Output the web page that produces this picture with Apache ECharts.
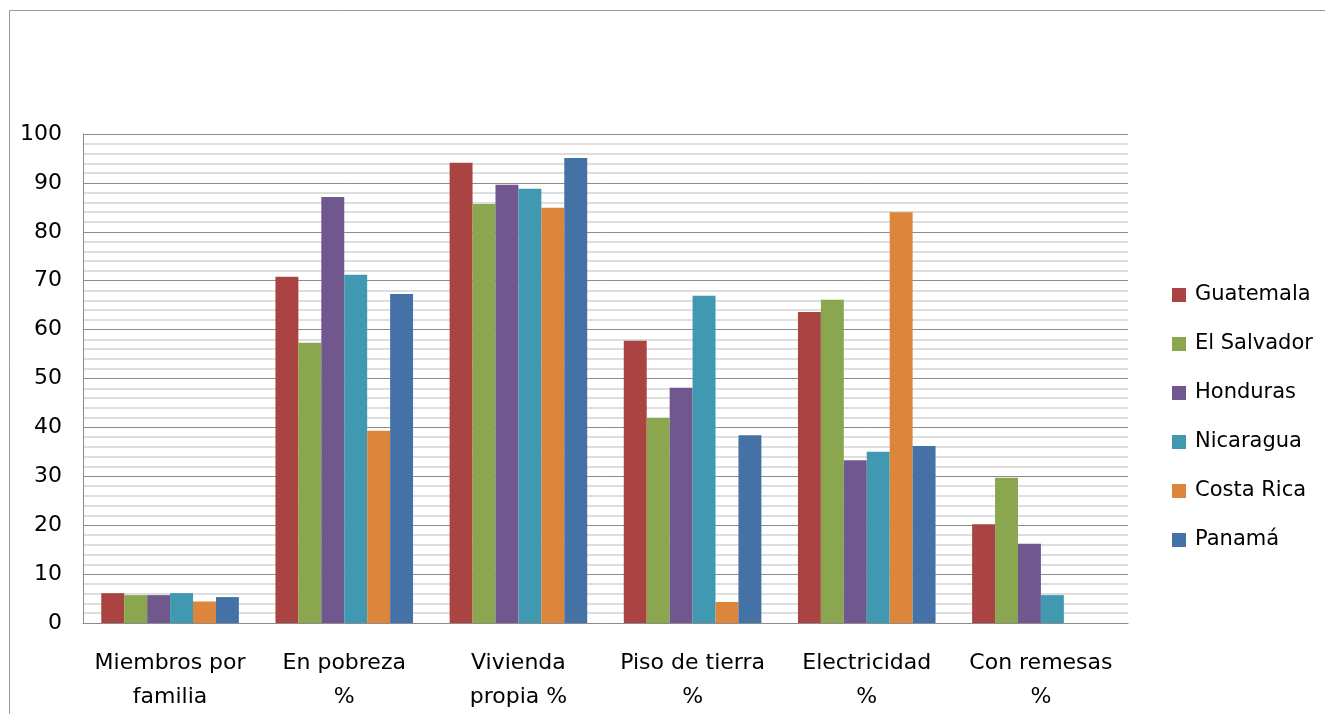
<!DOCTYPE html>
<html>
<head>
<meta charset="utf-8">
<script src="https://cdn.jsdelivr.net/npm/echarts@6/dist/echarts.min.js"></script>
<style>
  html, body { margin: 0; padding: 0; background: #fff; }
  #chart { width: 1325px; height: 714px; }
</style>
</head>
<body>
<div id="chart"></div>
<script>
const categories = [
  "Miembros por\nfamilia",
  "En pobreza\n%",
  "Vivienda\npropia %",
  "Piso de tierra\n%",
  "Electricidad\n%",
  "Con remesas\n%",
];
const countries = ["Guatemala", "El Salvador", "Honduras", "Nicaragua", "Costa Rica", "Panamá"];

const guatemala = [6.1, 70.8, 94.1, 57.7, 63.6, 20.2];
const elSalvador = [5.7, 57.3, 85.7, 41.9, 66.1, 29.7];
const honduras = [5.7, 87.1, 89.6, 48.1, 33.3, 16.2];
const nicaragua = [6.1, 71.2, 88.8, 66.9, 35.0, 5.7];
const costaRica = [4.4, 39.3, 84.9, 4.3, 84.0, null];
const panama = [5.3, 67.3, 95.1, 38.4, 36.2, null];

const yTicks = [0, 10, 20, 30, 40, 50, 60, 70, 80, 90, 100];

const seriesData = [guatemala, elSalvador, honduras, nicaragua, costaRica, panama];
const colors = ["#A94442", "#8AA64F", "#70588E", "#4199B1", "#DE853C", "#4472A6"];
const font = "DejaVu Sans";

const chart = echarts.init(document.getElementById("chart"));
chart.setOption({
  animation: false,
  color: colors,
  graphic: [
    {
      type: "rect",
      shape: { x: 9.5, y: 10.5, width: 1400, height: 800 },
      style: { fill: "none", stroke: "#9a9a9a", lineWidth: 1 },
      silent: true,
    },
  ],
  legend: {
    orient: "vertical",
    left: 1172,
    top: 284,
    padding: 0,
    itemWidth: 14,
    itemHeight: 14,
    itemGap: 27,
    icon: "rect",
    data: countries,
    textStyle: {
      fontFamily: font,
      fontSize: 21,
      color: "#000",
      lineHeight: 22,
      padding: [0, 0, 0, 4],
    },
  },
  grid: {
    left: 83,
    top: 134,
    right: 197,
    bottom: 91,
    containLabel: false,
  },
  xAxis: {
    type: "category",
    data: categories,
    axisLine: { show: true, lineStyle: { color: "#8c8c8c", width: 1 } },
    axisTick: { show: false },
    axisLabel: {
      interval: 0,
      margin: 23,
      fontFamily: font,
      fontSize: 22,
      lineHeight: 34,
      color: "#000",
    },
  },
  yAxis: {
    type: "value",
    min: yTicks[0],
    max: yTicks[yTicks.length - 1],
    interval: 10,
    axisLine: { show: true, lineStyle: { color: "#8c8c8c", width: 1 } },
    axisTick: { show: false },
    axisLabel: {
      margin: 21,
      fontFamily: font,
      fontSize: 22,
      color: "#000",
      verticalAlign: "middle",
      padding: [4, 0, 0, 0],
    },
    splitLine: { show: true, lineStyle: { color: "#8c8c8c", width: 1 } },
    minorTick: { show: false, splitNumber: 5 },
    minorSplitLine: { show: true, lineStyle: { color: "#d4d4d4", width: 1.5 } },
  },
  series: countries.map((name, i) => ({
    name: name,
    type: "bar",
    data: seriesData[i],
    barGap: "0%",
    barCategoryGap: "21%",
  })),
});
</script>
</body>
</html>
